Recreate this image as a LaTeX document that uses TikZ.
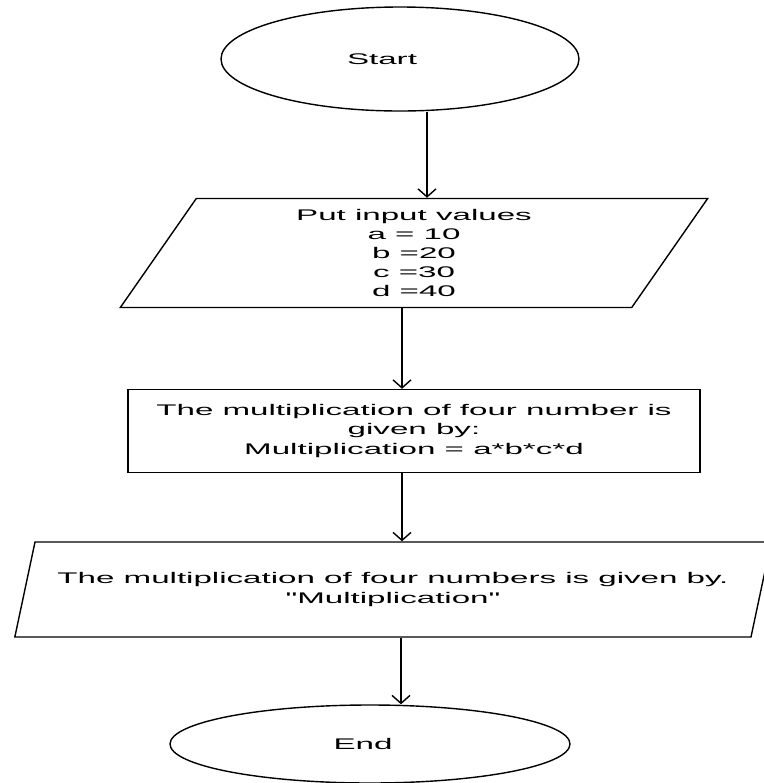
\documentclass[tikz,border=0pt]{standalone}
\usepackage{fontspec}
\newfontfamily\flowfont[FakeStretch=2.15]{Liberation Sans}
\usetikzlibrary{shapes.geometric,arrows.meta}

\tikzset{
  terminal/.style={ellipse, draw, line width=0.7pt, inner sep=0pt},
  iobox/.style={trapezium, trapezium stretches=true, draw, line width=0.7pt,
    inner sep=0pt, align=center},
  procbox/.style={rectangle, draw, line width=0.7pt, inner sep=0pt, align=center},
  flowline/.style={-{Straight Barb[length=4pt,width=9pt]}, line width=0.7pt}
}

\begin{document}
\begin{tikzpicture}[x=0.5pt,y=-0.5pt,font=\flowfont\fontsize{7.7}{9.6}\selectfont]
  \useasboundingbox (0,0) rectangle (764,783);
  \node[terminal, minimum width=179pt, minimum height=52pt] (start) at (400,59) {\hspace*{-18pt}Start};
  \node[iobox, trapezium left angle=65, trapezium right angle=115,
    minimum width=294pt, minimum height=54.5pt] (input) at (414,253)
    {Put input values\\a = 10\\b =20\\c =30\\d =40};
  \node[procbox, minimum width=286pt, minimum height=41.5pt] (mult) at (414,431)
    {The multiplication of four number is\\given by:\\Multiplication = a*b*c*d};
  \node[iobox, trapezium left angle=60.6, trapezium right angle=119.4,
    minimum width=380pt, minimum height=47.5pt] (output) at (393,589.5)
    {The multiplication of four numbers is given by.\\"Multiplication"};
  \node[terminal, minimum width=200pt, minimum height=39pt] (end) at (370,744) {\hspace*{-7pt}End};

  % where the arrows run
  \coordinate (c1) at (427,0);
  \coordinate (c2) at (402,0);
  \coordinate (c3) at (401,0);

  \draw[flowline] (start.south -| c1) -- (input.north -| c1);
  \draw[flowline] (input.south -| c2) -- (mult.north -| c2);
  \draw[flowline] (mult.south -| c2) -- (output.north -| c2);
  \draw[flowline] (output.south -| c3) -- (end.north -| c3);
\end{tikzpicture}
\end{document}
